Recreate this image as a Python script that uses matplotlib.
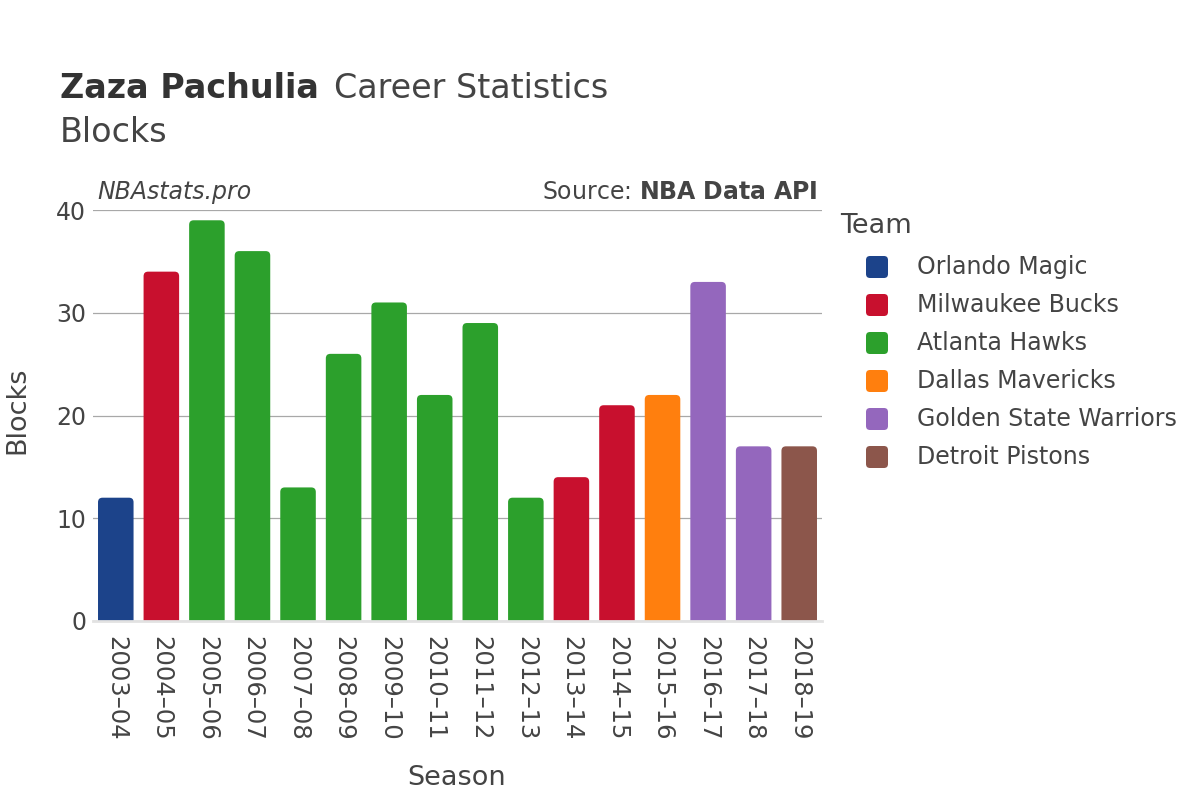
import matplotlib
matplotlib.use("Agg")
import matplotlib.pyplot as plt
from matplotlib.patches import FancyBboxPatch

seasons = ["2003–04", "2004–05", "2005–06", "2006–07", "2007–08", "2008–09", "2009–10", "2010–11",
           "2011–12", "2012–13", "2013–14", "2014–15", "2015–16", "2016–17", "2017–18", "2018–19"]
blocks = [12, 34, 39, 36, 13, 26, 31, 22, 29, 12, 14, 21, 22, 33, 17, 17]
teams = ["Orlando Magic", "Milwaukee Bucks", "Atlanta Hawks", "Atlanta Hawks", "Atlanta Hawks",
         "Atlanta Hawks", "Atlanta Hawks", "Atlanta Hawks", "Atlanta Hawks", "Atlanta Hawks",
         "Milwaukee Bucks", "Milwaukee Bucks", "Dallas Mavericks", "Golden State Warriors",
         "Golden State Warriors", "Detroit Pistons"]
team_order = ["Orlando Magic", "Milwaukee Bucks", "Atlanta Hawks", "Dallas Mavericks",
              "Golden State Warriors", "Detroit Pistons"]
team_colors = {"Orlando Magic": "#1C438A", "Milwaukee Bucks": "#C8102E", "Atlanta Hawks": "#2CA02C",
               "Dallas Mavericks": "#FF7F0E", "Golden State Warriors": "#9467BD",
               "Detroit Pistons": "#8C564B"}
yticks = [0, 10, 20, 30, 40]

W, H = 1200, 800
txt = "#444444"
fig = plt.figure(figsize=(12, 8), dpi=100)
ax_l, ax_r, ax_b, ax_t = 93, 822, 621, 210
ax = fig.add_axes([ax_l/W, 1-ax_b/H, (ax_r-ax_l)/W, (ax_b-ax_t)/H])

x = list(range(len(seasons)))
ax.set_xlim(-0.5, len(seasons)-0.5)
ax.set_ylim(0, 40)
bars = ax.bar(x, blocks, width=0.78, color=[team_colors[t] for t in teams], zorder=3)

# rounded top corners
px_per_x = (ax_r-ax_l)/len(seasons)
px_per_y = (ax_b-ax_t)/40
r_px = 4.5
rx = r_px/px_per_x
ry = r_px/px_per_y
for b in bars:
    bx, bw, bh = b.get_x(), b.get_width(), b.get_height()
    b.set_visible(False)
    p = FancyBboxPatch((bx, -2*ry), bw, bh+2*ry,
                       boxstyle=f"round,pad=0,rounding_size={rx}",
                       mutation_aspect=ry/rx,
                       facecolor=b.get_facecolor(), edgecolor="none", zorder=3)
    p.set_clip_on(True)
    ax.add_patch(p)

ax.set_yticks(yticks)
ax.set_yticklabels([str(v) for v in yticks], fontsize=17, color=txt)
ax.set_xticks(x)
ax.set_xticklabels(seasons, rotation=-90, fontsize=17.5, color=txt)
ax.tick_params(axis="y", length=0, pad=5)
ax.tick_params(axis="x", length=0, pad=11)
ax.grid(axis="y", color="#a8a8a8", linewidth=0.9, zorder=0)
ax.axhline(0, color="#e2e2e2", linewidth=2, zorder=4, clip_on=False)
for s in ax.spines.values():
    s.set_visible(False)

fig.text(457/W, 1-778/H, "Season", fontsize=19.5, color=txt, va="center", ha="center")
fig.text(17/W, 1-410/H, "Blocks", fontsize=19.5, color=txt, va="center", ha="center", rotation=90)

fig.text(60/W, 1-88/H, "Zaza Pachulia", fontsize=24, fontweight="bold", color="#333333", va="center")
fig.text(334/W, 1-88/H, "Career Statistics", fontsize=24, color="#444444", va="center")
fig.text(60/W, 1-132/H, "Blocks", fontsize=24, color="#444444", va="center")
fig.text(97/W, 1-192/H, "NBAstats.pro", fontsize=17, style="italic", color=txt, va="center")
fig.text(818/W, 1-192/H, "Source: $\\bf{NBA\\ Data\\ API}$", fontsize=17, color=txt, va="center", ha="right")

# legend (manual)
fig.text(840/W, 1-226/H, "Team", fontsize=19.5, color=txt, va="center")
for i, t in enumerate(team_order):
    yc = 267 + 38*i
    sq = 22
    p = FancyBboxPatch(((877-sq/2)/W, 1-(yc+sq/2)/H), sq/W, sq/H,
                       boxstyle=f"round,pad=0,rounding_size={4/W}", mutation_aspect=W/H,
                       transform=fig.transFigure, facecolor=team_colors[t], edgecolor="none")
    fig.add_artist(p)
    fig.text(917/W, 1-yc/H, t, fontsize=17, color=txt, va="center")

fig.savefig("out.png", dpi=100, facecolor="white")
